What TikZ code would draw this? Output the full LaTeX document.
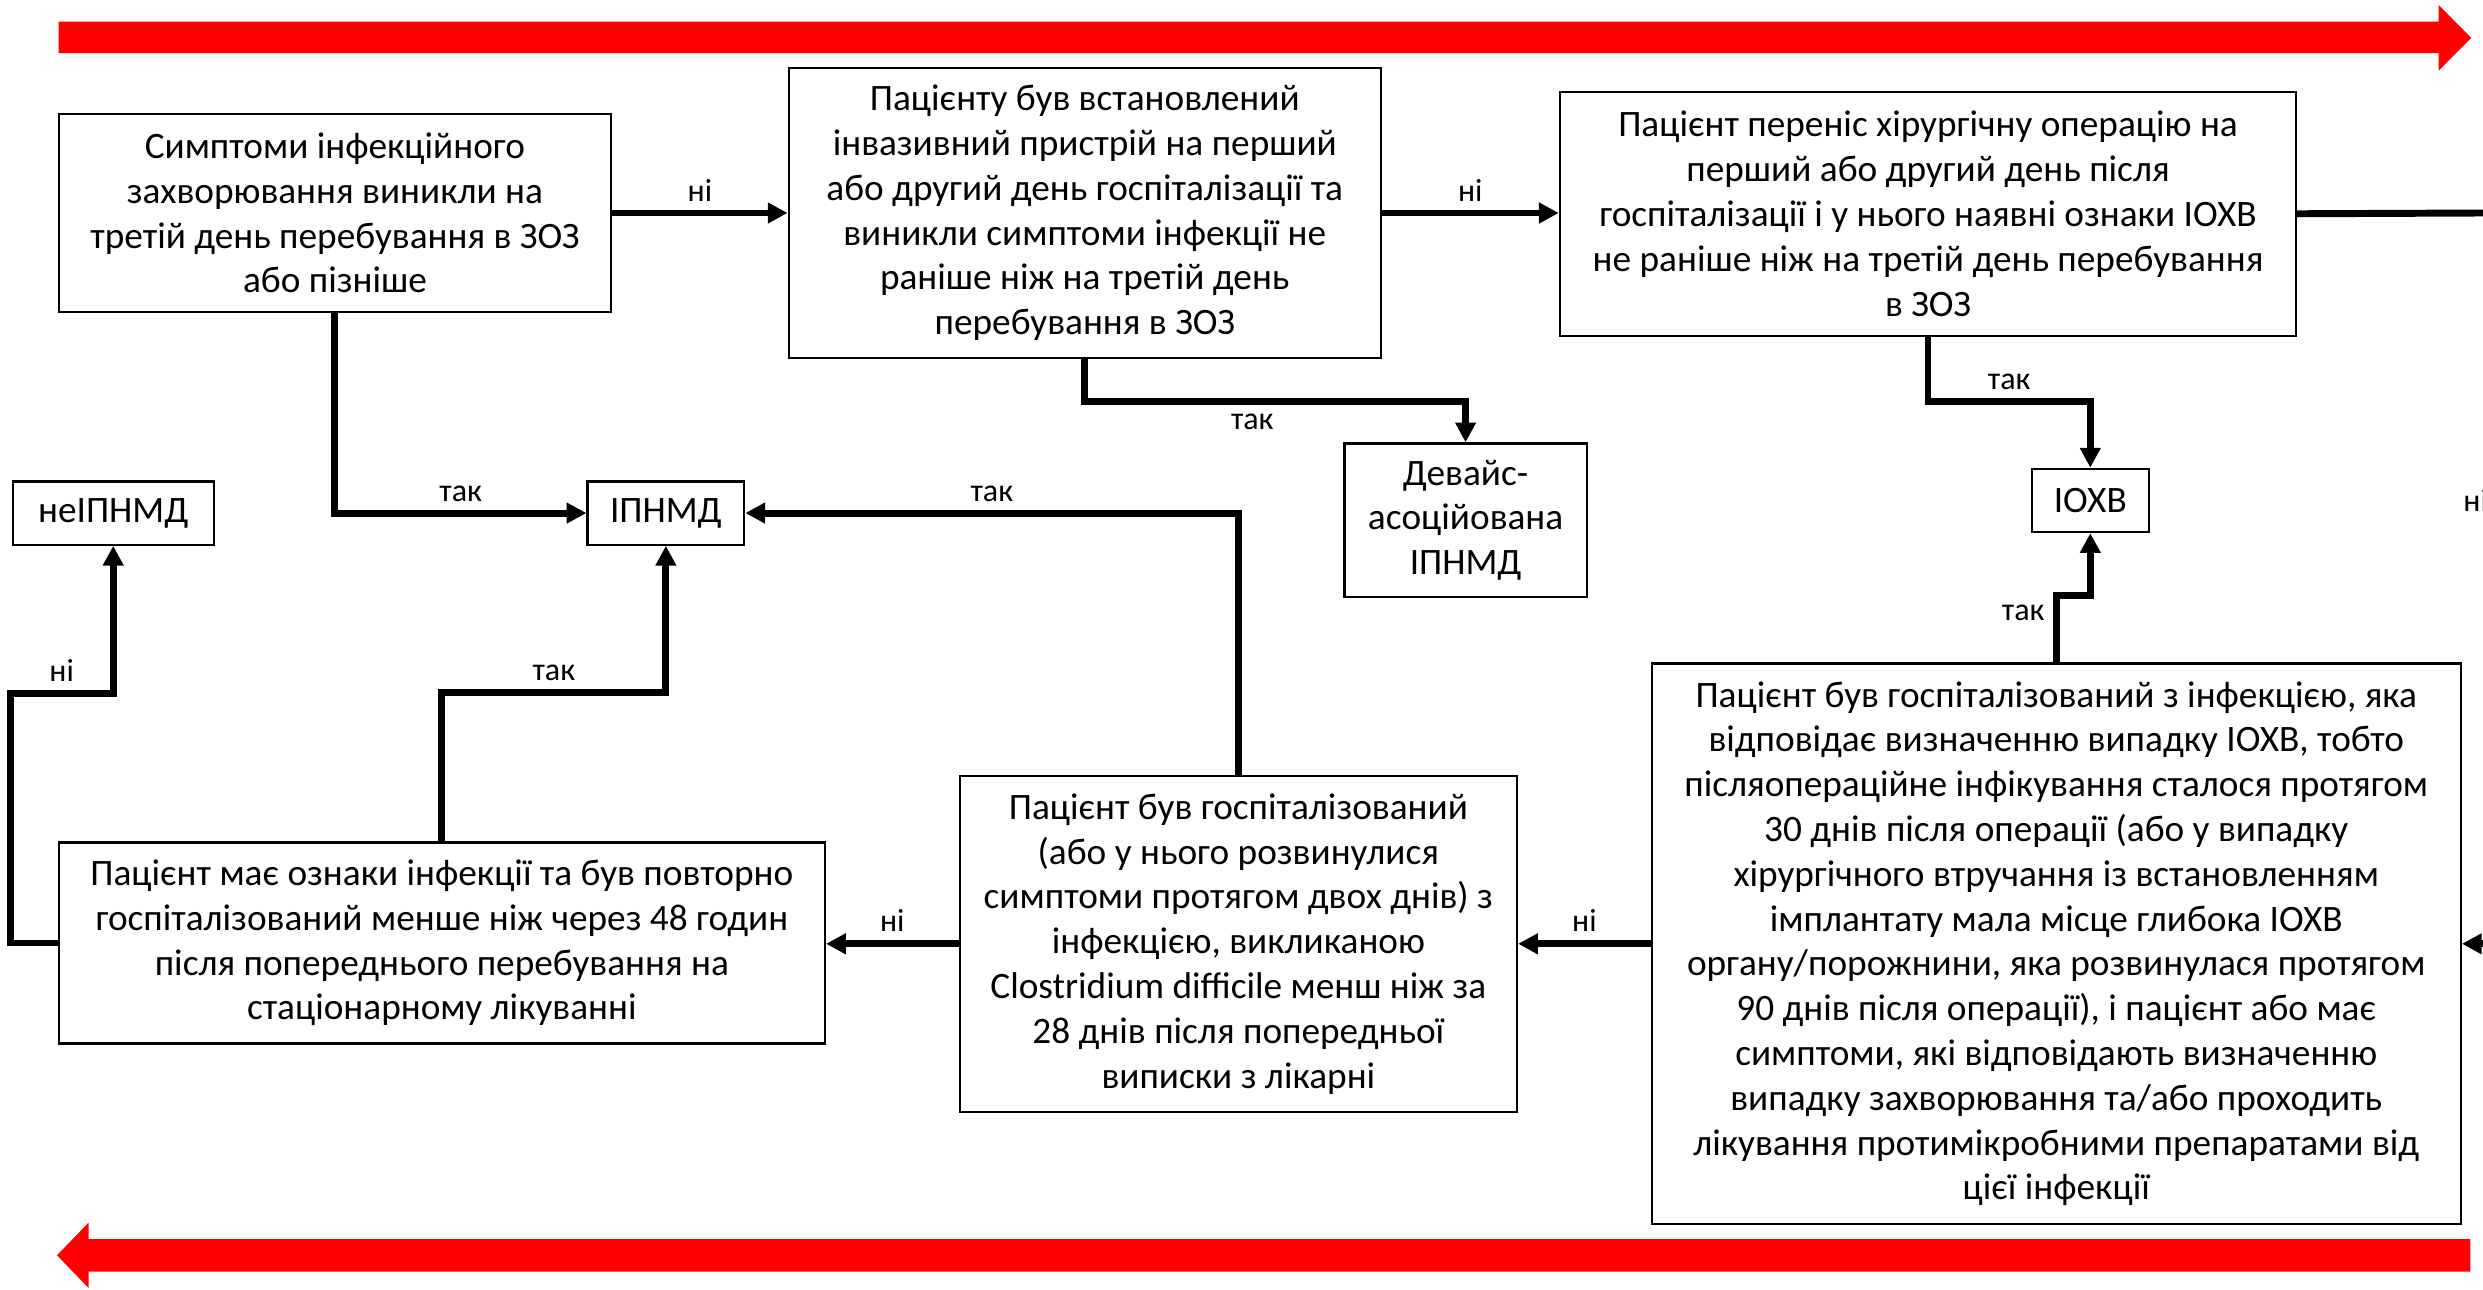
\documentclass[tikz,border=0pt]{standalone}
\usepackage{fontspec}
\setmainfont{Carlito}
\usetikzlibrary{arrows.meta}
\tikzset{>={Triangle[length=0.25cm,width=0.25cm]}}
\tikzset{
  box/.style={draw,line width=0.8pt,align=center,inner sep=0pt,font=\fontsize{13.4}{16.1}\selectfont},
  conn/.style={line width=2.5pt,->},
  lbl/.style={font=\fontsize{11.5}{13}\selectfont,inner sep=3pt}
}

\begin{document}
\begin{tikzpicture}[x=0.02cm,y=-0.02cm]
\useasboundingbox (0,0) rectangle (1568,814);
% red direction arrows
\fill[red] (37,13.7) -- (1540,13.7) -- (1540,3.2) -- (1560.5,23.9) -- (1540,44.6) -- (1540,33.5) -- (37,33.5) -- cycle;
\fill[red] (1560,782.5) -- (56,782.5) -- (56,772) -- (36,792.7) -- (56,813.4) -- (56,803) -- (1560,803) -- cycle;
% boxes
\node[box,minimum width=6.98cm,minimum height=2.50cm] (symp) at (211.5,134.5) {Симптоми інфекційного\\захворювання виникли на\\третій день перебування в ЗОЗ\\або пізніше};
\node[box,minimum width=7.48cm,minimum height=3.66cm] (dev) at (685,134.5) {Пацієнту був встановлений\\інвазивний пристрій на перший\\або другий день госпіталізації та\\виникли симптоми інфекції не\\раніше ніж на третій день\\перебування в ЗОЗ};
\node[box,minimum width=9.30cm,minimum height=3.08cm] (surg) at (1217.5,135) {Пацієнт переніс хірургічну операцію на\\перший або другий день після\\госпіталізації і у нього наявні ознаки ІОХВ\\не раніше ніж на третій день перебування\\в ЗОЗ};
\node[box,minimum width=2.54cm,minimum height=0.80cm] (nonhai) at (71.5,324) {неІПНМД};
\node[box,minimum width=1.98cm,minimum height=0.80cm] (hai) at (420.5,324) {ІПНМД};
\node[box,minimum width=3.06cm,minimum height=1.94cm] (devhai) at (925.5,328.5) {Девайс-\\асоційована\\ІПНМД};
\node[box,minimum width=1.48cm,minimum height=0.80cm] (ssi) at (1320,316) {ІОХВ};
\node[box,minimum width=10.22cm,minimum height=7.08cm] (ssiadm) at (1298.5,596) {Пацієнт був госпіталізований з інфекцією, яка\\відповідає визначенню випадку ІОХВ, тобто\\післяопераційне інфікування сталося протягом\\30 днів після операції (або у випадку\\хірургічного втручання із встановленням\\імплантату мала місце глибока ІОХВ\\органу/порожнини, яка розвинулася протягом\\90 днів після операції), і пацієнт або має\\симптоми, які відповідають визначенню\\випадку захворювання та/або проходить\\лікування протимікробними препаратами від\\цієї інфекції};
\node[box,minimum width=7.04cm,minimum height=4.24cm] (cdiff) at (782,596) {Пацієнт був госпіталізований\\(або у нього розвинулися\\симптоми протягом двох днів) з\\інфекцією, викликаною\\Clostridium difficile менш ніж за\\28 днів після попередньої\\виписки з лікарні};
\node[box,minimum width=9.68cm,minimum height=2.54cm] (readm) at (279,595.5) {Пацієнт має ознаки інфекції та був повторно\\госпіталізований менше ніж через 48 годин\\після попереднього перебування на\\стаціонарному лікуванні};
% free ends at the right edge
\coordinate (outR) at (1568,134.5);
\coordinate (inR) at (1568,596);
% connectors
\draw[conn] (symp.east) -- node[lbl,above]{ні} (symp.east -| dev.west);
\draw[conn] (dev.east) -- node[lbl,above]{ні} (dev.east -| surg.west);
\draw[conn] (symp.south) |- node[lbl,pos=0.75,above]{так} (hai.west);
\draw[conn] (dev.south) -- ++(0,27) -| node[lbl,pos=0.22,below]{так} (devhai.north);
\draw[conn] (surg.south) -- ++(0,41) -| node[lbl,pos=0.25,above]{так} (ssi.north);
\draw[conn] (ssiadm.north) -- node[lbl,pos=0.75,left]{так} ++(0,-42) -| (ssi.south);
\draw[line width=2.5pt] (surg.east) -- (outR);
\draw[conn] (inR) -- (ssiadm.east);
\node[lbl,anchor=west] (noR) at (1550,316) {ні};
\draw[conn] (ssiadm.west) -- node[lbl,above]{ні} (cdiff.east);
\draw[conn] (cdiff.west) -- node[lbl,above]{ні} (cdiff.west -| readm.east);
\draw[conn] (cdiff.north) |- node[lbl,pos=0.75,above]{так} (hai.east);
\draw[conn] (readm.north) -- ++(0,-94) -| node[lbl,pos=0.25,above]{так} (hai.south);
\draw[conn] (readm.west) -| ++(-30,-157.5) -| node[lbl,pos=0.25,above]{ні} (nonhai.south);
\end{tikzpicture}
\end{document}
